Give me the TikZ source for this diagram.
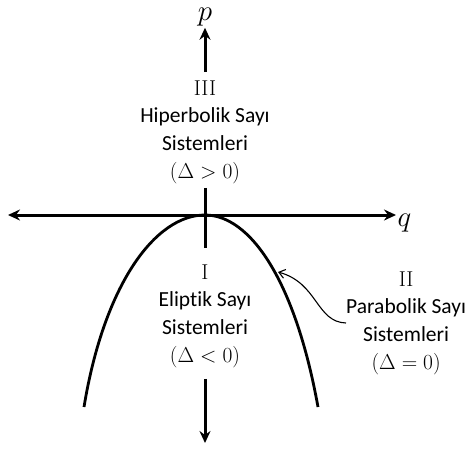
\documentclass[tikz,border=0pt]{standalone}
\usepackage{fix-cm}
\usepackage{fontspec}
\newfontfamily\labelfont[Ligatures=NoCommon]{Carlito}
\usetikzlibrary{arrows.meta}

\begin{document}
\begin{tikzpicture}
[
	x=1pt, y=-1pt,
	axis/.style={line width=3pt},
	axistip/.style={-{Stealth[length=12pt,width=11pt,inset=4pt]}},
	curve/.style={line width=2.8pt},
	region/.style={align=center, inner sep=0pt, font=\labelfont\fontsize{21.5}{27.7}\selectfont},
	varlabel/.style={inner sep=1.5pt, font=\fontsize{29}{31}\selectfont},
	pointer/.style={line width=1.1pt, -{Straight Barb[length=6pt,width=9pt]}}
]
	\useasboundingbox (0,0) rectangle (469,451);

	% points
	\coordinate (O) at (205,215);
	\coordinate (qneg) at (8,215);
	\coordinate (pneg) at (205,443);
	\coordinate (touch) at (278,272);

	% labels
	\node[varlabel] (p) at (205,17) {$p$};
	\node[varlabel, anchor=west] (q) at (396,223) {$q$};
	\node[region] (hyp) at (205,132) {{\rmfamily III}\\Hiperbolik Sayı\\Sistemleri\\$(\Delta>0)$};
	\node[region] (ell) at (205,316) {{\rmfamily I}\\Eliptik Sayı\\Sistemleri\\$(\Delta<0)$};
	\node[region, anchor=west] (para) at (346,323) {{\rmfamily II}\\Parabolik Sayı\\Sistemleri\\$(\Delta=0)$};

	% graph
	\draw[curve] (84,407) .. controls (104,285) and (155,215) .. (O)
		.. controls (250,215) and (295,280) .. (318,407);

	% axes
	\draw[axis, axistip] (O) -- (qneg);
	\draw[axis, axistip] (O) -- (O -| q.west);
	\draw[axis, axistip, shorten <=8pt] (hyp) -- (p);
	\draw[axis, shorten <=4pt, shorten >=16pt] (hyp) -- (ell);
	\draw[axis, axistip, shorten <=11pt] (ell) -- (pneg);

	% pointer
	\draw[pointer] (para.west) .. controls (316,322) and (318,283) .. (touch);

\end{tikzpicture}
\end{document}
